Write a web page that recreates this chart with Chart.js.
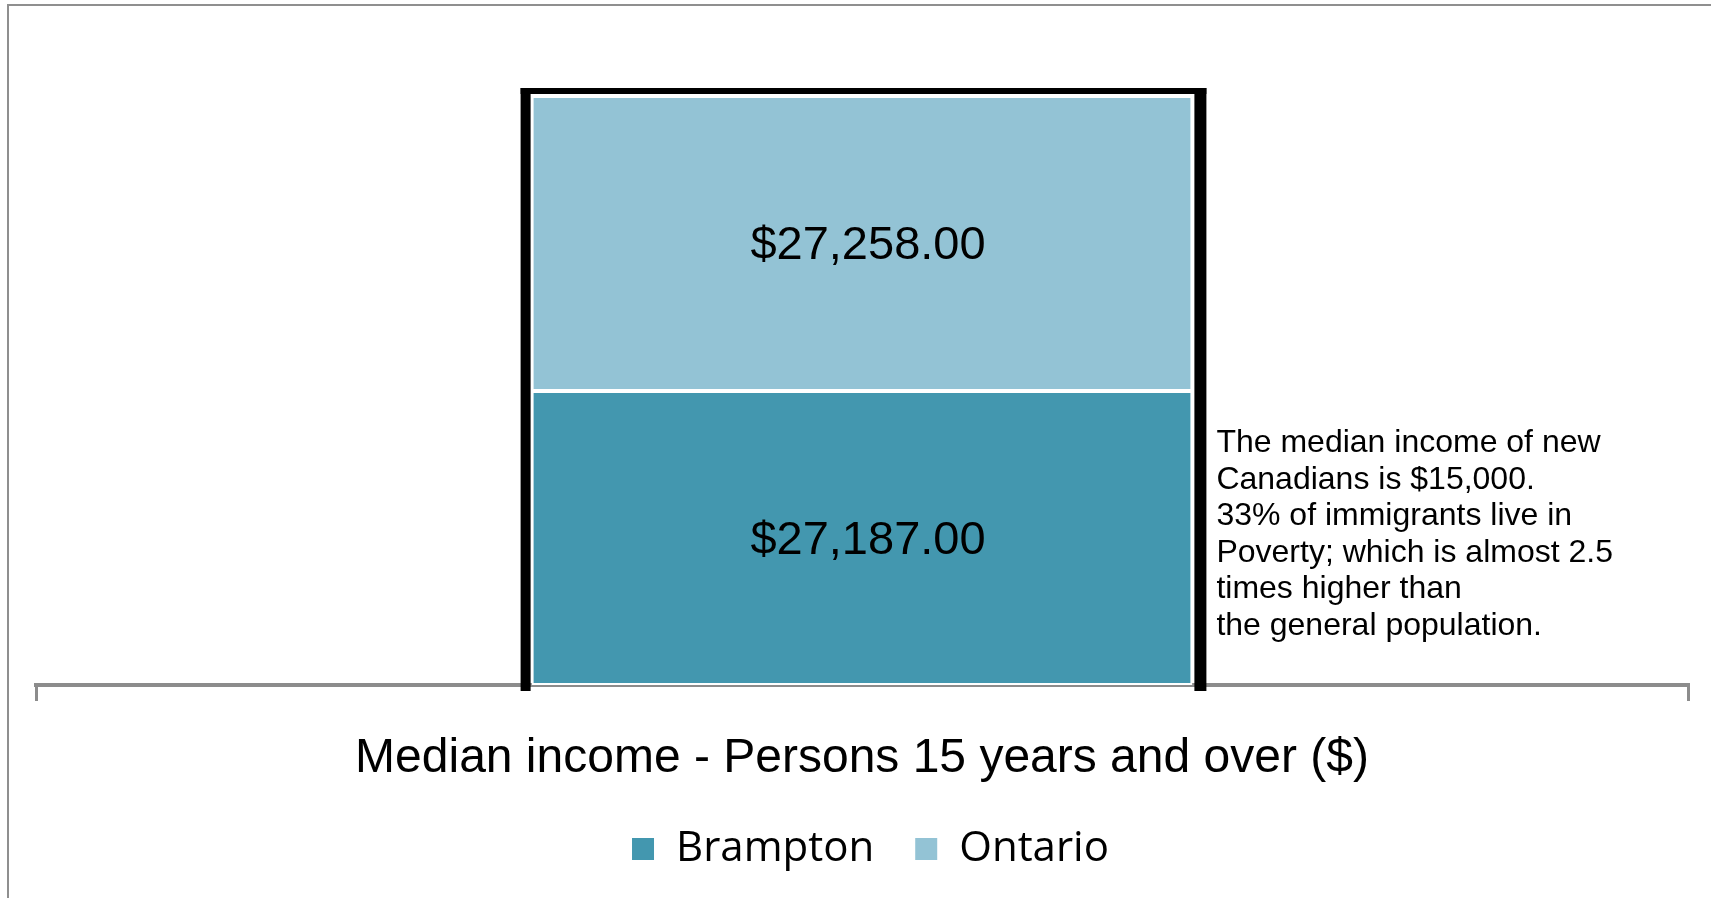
<!DOCTYPE html>
<html>
<head>
<meta charset="utf-8">
<script src="https://cdn.jsdelivr.net/npm/chart.js@4/dist/chart.umd.min.js"></script>
<style>
  html, body { margin: 0; padding: 0; background: #fff; overflow: hidden; }
  #frame { position: absolute; left: 7px; top: 4px; width: 1800px; height: 1000px; border: 2px solid #8f8f8f; }
  #chart { position: absolute; left: 0; top: 0; }
</style>
</head>
<body>
<div id="frame"></div>
<canvas id="chart" width="1711" height="898"></canvas>
<script>
const categories = ["Median income - Persons 15 years and over ($)"];
const brampton = [27187];
const ontario = [27258];
const noteLines = [
  "The median income of new",
  "Canadians is $15,000.",
  "33% of immigrants live in",
  "Poverty; which is almost 2.5",
  "times higher than",
  "the general population."
];

const money = v => "$" + v.toLocaleString("en-US", { minimumFractionDigits: 2, maximumFractionDigits: 2 });

// black frame around the stack, the value labels and the side note
const extras = {
  id: "extras",
  afterLayout(chart) {
    // nudge the legend row a little to the right, as in the original
    chart.legend.left += 8;
    chart.legend.right += 8;
  },
  beforeDatasetsDraw(chart) {
    const ctx = chart.ctx;
    const bars = chart.getSortedVisibleDatasetMetas().map(m => m.data[0]);
    const left = Math.min(...bars.map(b => b.x - b.width / 2));
    const right = Math.max(...bars.map(b => b.x + b.width / 2));
    const top = Math.min(...bars.map(b => b.y));
    const bottom = chart.chartArea.bottom + 6;
    ctx.save();
    ctx.fillStyle = "#000";
    ctx.fillRect(left - 11, top - 8, 10, bottom - top + 8);
    ctx.fillRect(right + 2, top - 8, 12, bottom - top + 8);
    ctx.fillRect(left - 11, top - 8, right - left + 25, 6);
    ctx.restore();
  },
  afterDatasetsDraw(chart) {
    const ctx = chart.ctx;
    ctx.save();
    ctx.fillStyle = "#000";
    ctx.textAlign = "center";
    ctx.textBaseline = "middle";
    ctx.font = "47px 'Liberation Sans', Arial, sans-serif";
    chart.getSortedVisibleDatasetMetas().forEach(meta => {
      const ds = chart.data.datasets[meta.index];
      meta.data.forEach((b, i) => {
        ctx.fillText(money(ds.data[i]), b.x + 6, (b.y + b.base) / 2 + 3);
      });
    });
    const bar = chart.getDatasetMeta(0).data[0];
    ctx.textAlign = "left";
    ctx.textBaseline = "alphabetic";
    ctx.font = "32px 'Liberation Sans', Arial, sans-serif";
    const x = bar.x + bar.width / 2 + 24;
    noteLines.forEach((line, i) => {
      ctx.fillText(line, x, chart.chartArea.bottom - 233 + i * 36.5);
    });
    ctx.restore();
  }
};

new Chart(document.getElementById("chart"), {
  type: "bar",
  data: {
    labels: categories,
    datasets: [
      {
        label: "Brampton",
        data: brampton,
        backgroundColor: "#4397af",
        borderColor: "#ffffff",
        borderWidth: 2,
        borderSkipped: false,
        barPercentage: 0.4,
        categoryPercentage: 1
      },
      {
        label: "Ontario",
        data: ontario,
        backgroundColor: "#93c3d5",
        borderColor: "#ffffff",
        borderWidth: 2,
        borderSkipped: false,
        barPercentage: 0.4,
        categoryPercentage: 1
      }
    ]
  },
  options: {
    responsive: false,
    animation: false,
    devicePixelRatio: 1,
    layout: { padding: { top: 96, left: 36, right: 23, bottom: 18 } },
    scales: {
      x: {
        stacked: true,
        z: 1,
        afterFit: scale => { scale.height = 103; },
        grid: { offset: true, drawOnChartArea: false, color: "#8c8c8c", lineWidth: 3, tickLength: 16 },
        border: { color: "#8c8c8c", width: 4 },
        ticks: {
          color: "#000",
          padding: 29,
          maxRotation: 0,
          autoSkip: false,
          font: { family: "'Liberation Sans', Arial, sans-serif", size: 48 }
        }
      },
      y: {
        stacked: true,
        display: false,
        min: 0,
        max: brampton[0] + ontario[0]
      }
    },
    plugins: {
      tooltip: { enabled: false },
      legend: {
        position: "bottom",
        labels: {
          color: "#000",
          boxWidth: 24,
          boxHeight: 24,
          padding: 40,
          font: { family: "'Open Sans', sans-serif", size: 42 }
        }
      }
    }
  },
  plugins: [extras]
});
</script>
</body>
</html>
